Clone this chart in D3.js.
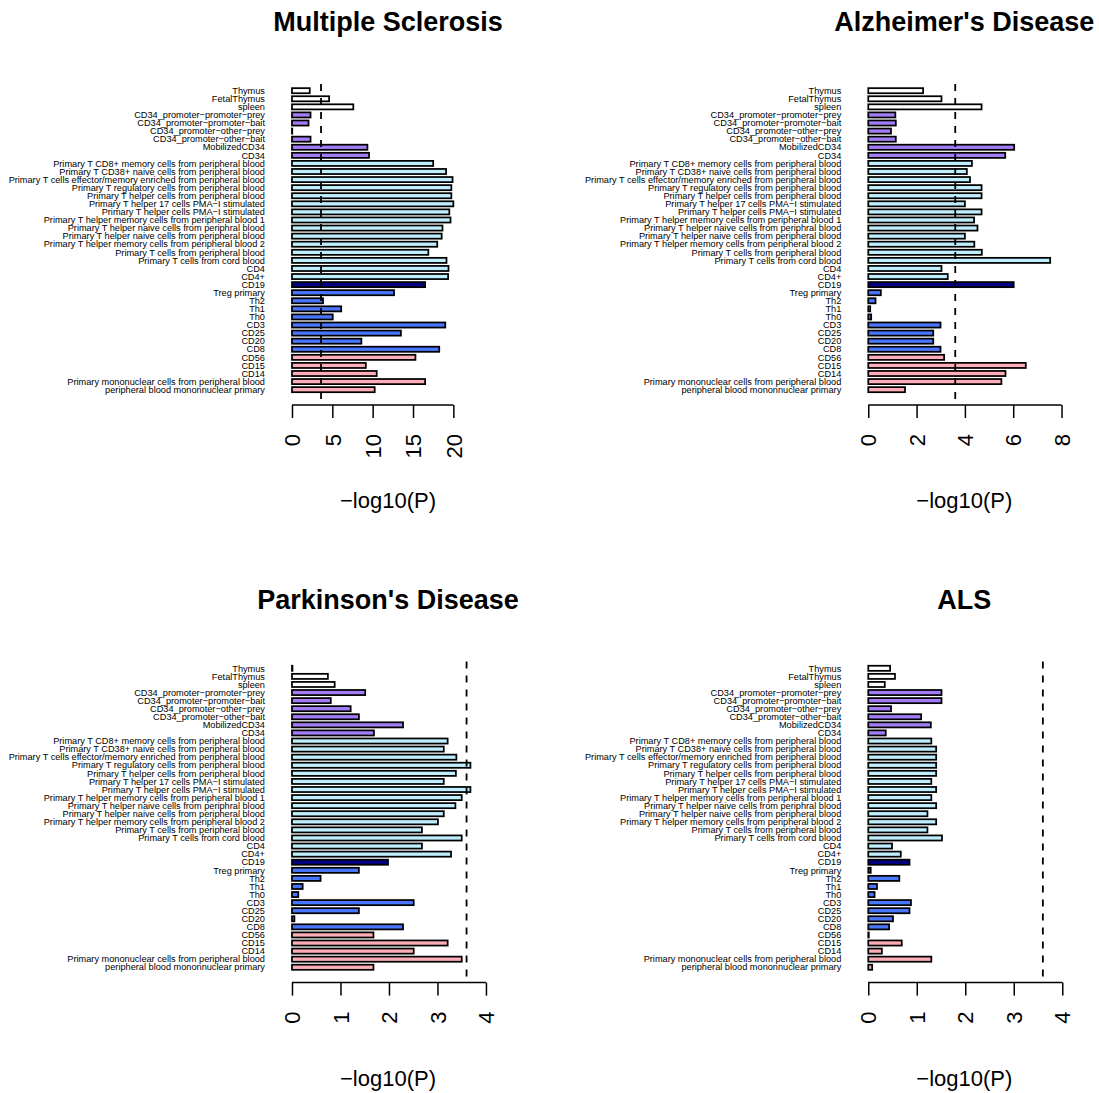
<!DOCTYPE html>
<html>
<head>
<meta charset="utf-8">
<script src="https://cdn.jsdelivr.net/npm/d3@7"></script>
<style>
  body { margin: 0; background: #ffffff; }
  text { font-family: "Liberation Sans", Arial, sans-serif; }
</style>
</head>
<body>
<script>
'use strict';

// cell types, listed top to bottom as in the plot
const cellTypes = [
  "Thymus", "FetalThymus", "spleen",
  "CD34_promoter\u2212promoter\u2212prey", "CD34_promoter\u2212promoter\u2212bait",
  "CD34_promoter\u2212other\u2212prey", "CD34_promoter\u2212other\u2212bait",
  "MobilizedCD34", "CD34",
  "Primary T CD8+ memory cells from peripheral blood",
  "Primary T CD38+ naive cells from peripheral blood",
  "Primary T cells effector/memory enriched from peripheral blood",
  "Primary T regulatory cells from peripheral blood",
  "Primary T helper cells from peripheral blood",
  "Primary T helper 17 cells PMA\u2212I stimulated",
  "Primary T helper cells PMA\u2212I stimulated",
  "Primary T helper memory cells from peripheral blood 1",
  "Primary T helper naive cells from periphral blood",
  "Primary T helper naive cells from peripheral blood",
  "Primary T helper memory cells from peripheral blood 2",
  "Primary T cells from peripheral blood",
  "Primary T cells from cord blood",
  "CD4", "CD4+", "CD19", "Treg primary", "Th2", "Th1", "Th0",
  "CD3", "CD25", "CD20", "CD8", "CD56", "CD15", "CD14",
  "Primary mononuclear cells from peripheral blood",
  "peripheral blood mononnuclear primary"
];

// group of each cell type (decides the bar colour)
const cellGroups = [
  "tissue", "tissue", "tissue",
  "cd34", "cd34", "cd34", "cd34", "cd34", "cd34",
  "tcell", "tcell", "tcell", "tcell", "tcell", "tcell", "tcell", "tcell",
  "tcell", "tcell", "tcell", "tcell", "tcell", "tcell", "tcell",
  "bcell",
  "tsub", "tsub", "tsub", "tsub", "tsub", "tsub", "tsub", "tsub",
  "myeloid", "myeloid", "myeloid", "myeloid", "myeloid"
];

const diseases = ["Multiple Sclerosis", "Alzheimer's Disease", "Parkinson's Disease", "ALS"];

// -log10(P) per cell type
const msValues = [
  2.2, 4.6, 7.6, 2.3, 2.05, 0.03, 2.3, 9.35, 9.55,
  17.5, 19.1, 19.9, 19.75, 19.75, 20.0, 19.5, 19.65, 18.65, 18.55, 18.0,
  16.9, 19.15, 19.4, 19.35, 16.5, 12.65, 3.85, 6.1, 5.05,
  19.0, 13.5, 8.6, 18.25, 15.3, 9.15, 10.5, 16.5, 10.25
];
const adValues = [
  2.27, 3.03, 4.69, 1.12, 1.14, 0.94, 1.14, 6.04, 5.67,
  4.29, 4.08, 4.21, 4.69, 4.69, 4.0, 4.69, 4.38, 4.52, 4.0, 4.39,
  4.7, 7.53, 3.03, 3.29, 6.02, 0.52, 0.3, 0.08, 0.12,
  2.99, 2.69, 2.69, 2.99, 3.14, 6.52, 5.68, 5.51, 1.52
];
const pdValues = [
  0.01, 0.74, 0.88, 1.51, 0.8, 1.21, 1.38, 2.29, 1.69,
  3.21, 3.13, 3.39, 3.68, 3.38, 3.13, 3.68, 3.5, 3.37, 3.13, 3.01,
  2.68, 3.5, 2.68, 3.28, 1.98, 1.38, 0.59, 0.22, 0.13,
  2.51, 1.38, 0.05, 2.29, 1.68, 3.21, 2.51, 3.5, 1.68
];
const alsValues = [
  0.45, 0.55, 0.34, 1.51, 1.51, 0.47, 1.09, 1.29, 0.36,
  1.3, 1.4, 1.4, 1.4, 1.4, 1.3, 1.4, 1.3, 1.4, 1.22, 1.4,
  1.22, 1.52, 0.49, 0.67, 0.85, 0.05, 0.64, 0.18, 0.13,
  0.88, 0.85, 0.51, 0.43, 0.01, 0.69, 0.28, 1.3, 0.08
];

const msTicks = [0, 5, 10, 15, 20];
const adTicks = [0, 2, 4, 6, 8];
const pdTicks = [0, 1, 2, 3, 4];
const alsTicks = [0, 1, 2, 3, 4];

// upper x limit of each panel (before the 4% padding)
const xLimits = [23.8, 7.95, 3.96, 3.96];

// significance cut-off in -log10(P)
const threshold = 3.6;

(function() {

  let svgContainer = "";

  const groupColors = {
    "tissue": "#ffffff",
    "cd34": "#a47cf8",
    "tcell": "#bfefff",
    "bcell": "#000080",
    "tsub": "#4876ff",
    "myeloid": "#ffaeb9"
  };

  window.onload = function() {
    svgContainer = d3.select('body')
      .append('svg')
      .attr('width', 1099)
      .attr('height', 1093);

    const values = [msValues, adValues, pdValues, alsValues];
    const ticks = [msTicks, adTicks, pdTicks, alsTicks];

    for (let i = 0; i < 4; i++) {
      drawPanel(i, diseases[i], values[i], ticks[i], xLimits[i]);
    }
  }

  // one barplot: title, labels, bars, threshold line, axis
  function drawPanel(idx, title, vals, tickVals, xLim) {
    const col = idx % 2;
    const row = Math.floor(idx / 2);
    const left = col === 0 ? 284.3 : 860.6;
    const width = 207.4;
    const dy = row * 577.6;

    const barTop = 86.66 + dy;
    const step = 8.08;
    const axisY = 405 + dy;
    const plotTop = 84 + dy;

    // x scale, padded 4% each side like R
    let xScale = d3.scaleLinear()
      .domain([-0.04 * xLim, 1.04 * xLim])
      .range([left, left + width]);

    let yScale = d3.scaleBand()
      .domain(cellTypes)
      .range([barTop, barTop + step * cellTypes.length])
      .paddingInner(0.37)
      .paddingOuter(0.185);

    let g = svgContainer.append('g');

    // row labels
    g.selectAll('.lab')
      .data(cellTypes)
      .enter()
      .append('text')
        .attr('x', xScale(0) - 27)
        .attr('y', (d) => yScale(d) + yScale.bandwidth() / 2)
        .attr('dy', '0.35em')
        .attr('text-anchor', 'end')
        .style('font-size', '9.2px')
        .attr('fill', '#000')
        .text((d) => d);

    // bars
    g.selectAll('.bar')
      .data(vals)
      .enter()
      .append('rect')
        .attr('x', xScale(0))
        .attr('y', (d, i) => yScale(cellTypes[i]))
        .attr('width', (d) => xScale(d) - xScale(0))
        .attr('height', yScale.bandwidth())
        .attr('fill', (d, i) => groupColors[cellGroups[i]])
        .attr('stroke', '#000')
        .attr('stroke-width', 1.75);

    // dashed threshold line
    g.append('line')
      .attr('x1', xScale(threshold))
      .attr('x2', xScale(threshold))
      .attr('y1', plotTop)
      .attr('y2', axisY)
      .attr('stroke', '#000')
      .attr('stroke-width', 1.8)
      .attr('stroke-dasharray', '7,7');

    // x axis
    let xAxis = d3.axisBottom(xScale)
      .tickValues(tickVals)
      .tickSize(13)
      .tickSizeOuter(0)
      .tickFormat(d3.format('d'));

    let ax = g.append('g')
      .attr('transform', 'translate(0,' + axisY + ')')
      .call(xAxis);

    ax.select('.domain').remove();
    ax.append('line')
      .attr('x1', xScale(tickVals[0]))
      .attr('x2', xScale(tickVals[tickVals.length - 1]))
      .attr('stroke', '#000')
      .attr('stroke-width', 1.5);
    ax.selectAll('.tick line')
      .attr('stroke', '#000')
      .attr('stroke-width', 1.5);
    ax.selectAll('.tick text')
      .attr('transform', 'rotate(-90)')
      .attr('x', -29)
      .attr('y', 0)
      .attr('dy', '0.35em')
      .attr('text-anchor', 'end')
      .attr('fill', '#000')
      .style('font-size', '22px')
      .style('font-family', '"Liberation Sans", Arial, sans-serif');

    // title and axis label
    g.append('text')
      .attr('x', left + width / 2)
      .attr('y', 31 + dy)
      .attr('text-anchor', 'middle')
      .style('font-size', '27px')
      .style('font-weight', 'bold')
      .text(title);

    g.append('text')
      .attr('x', left + width / 2)
      .attr('y', 508 + dy)
      .attr('text-anchor', 'middle')
      .style('font-size', '22px')
      .text('\u2212log10(P)');
  }

})();
</script>
</body>
</html>
